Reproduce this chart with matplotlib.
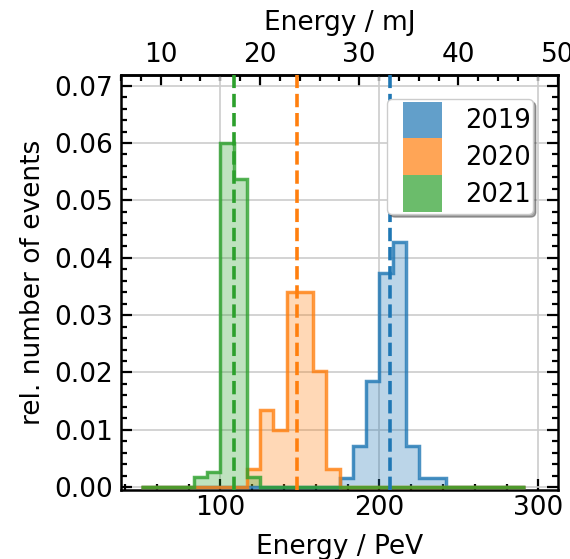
import numpy as np
import matplotlib
matplotlib.use("Agg")
import matplotlib.pyplot as plt
from matplotlib.patches import Patch, Rectangle
from matplotlib.legend_handler import HandlerPatch
from matplotlib.ticker import MultipleLocator, FormatStrFormatter

# ---------------- data ----------------
years = ["2019", "2020", "2021"]
colors = ["#1f77b4", "#ff7f0e", "#2ca02c"]

bin_edges = [50.0, 58.333, 66.667, 75.0, 83.333, 91.667, 100.0, 108.333,
             116.667, 125.0, 133.333, 141.667, 150.0, 158.333, 166.667,
             175.0, 183.333, 191.667, 200.0, 208.333, 216.667, 225.0,
             233.333, 241.667, 250.0, 258.333, 266.667, 275.0, 283.333,
             291.667]

heights_2019 = [0, 0, 0, 0, 0, 0, 0, 0, 0, 0, 0, 0, 0, 0, 0,
                0.0016, 0.0071, 0.0185, 0.0374, 0.0428, 0.0071, 0.0016, 0.0016,
                0, 0, 0, 0, 0, 0]
heights_2020 = [0, 0, 0, 0, 0, 0, 0, 0,
                0.0031, 0.0135, 0.0100, 0.0340, 0.0340, 0.0203, 0.0031,
                0, 0, 0, 0, 0, 0, 0, 0, 0, 0, 0, 0, 0, 0]
heights_2021 = [0, 0, 0, 0,
                0.0018, 0.0027, 0.0600, 0.0538, 0.0018,
                0, 0, 0, 0, 0, 0, 0, 0, 0, 0, 0, 0, 0, 0, 0, 0, 0, 0, 0, 0]

mean_energies = [206.7, 148.2, 108.2]   # PeV

PEV_PER_MJ = 6.2415  # 1 mJ = 6.2415 PeV

# ---------------- plot ----------------
fig = plt.figure(figsize=(5.7, 5.59), dpi=100)
ax = fig.add_axes([0.2123, 0.1243, 0.9784 - 0.2123, 0.8658 - 0.1243])

edges = np.asarray(bin_edges)
centers = 0.5 * (edges[:-1] + edges[1:])
all_heights = [heights_2019, heights_2020, heights_2021]

for h, c in zip(all_heights, colors):
    ax.hist(centers, bins=edges, weights=h, histtype="bar", rwidth=1.0,
            color=c, alpha=0.3, zorder=2)
    ax.hist(centers, bins=edges, weights=h, histtype="step",
            color=c, alpha=0.8, lw=2.5, zorder=3)

for m, c in zip(mean_energies, colors):
    ax.axvline(m, color=c, ls="--", lw=2.6, zorder=4)

ax.set_xlim(6 * PEV_PER_MJ, 50 * PEV_PER_MJ)
ax.set_ylim(-0.0004, 0.07185)

ax.xaxis.set_major_locator(MultipleLocator(100))
ax.xaxis.set_minor_locator(MultipleLocator(20))
ax.yaxis.set_major_locator(MultipleLocator(0.01))
ax.yaxis.set_minor_locator(MultipleLocator(0.002))
ax.yaxis.set_major_formatter(FormatStrFormatter("%.2f"))

ax.grid(True, which="major", color="#cccccc", lw=1.2, zorder=0)
ax.set_axisbelow(True)

TICK_FS = 19
ax.tick_params(which="both", direction="in", top=False, right=True,
               width=1.6, labelsize=TICK_FS)
ax.tick_params(which="major", length=8)
ax.tick_params(which="minor", length=4.5)
ax.tick_params(axis="x", pad=4)
ax.tick_params(axis="y", pad=6)
for s in ax.spines.values():
    s.set_linewidth(1.8)

ax.set_xlabel("Energy / PeV", fontsize=19, labelpad=9)
ax.set_ylabel("rel. number of events", fontsize=19, labelpad=6)

secax = ax.secondary_xaxis("top", functions=(lambda x: x / PEV_PER_MJ,
                                             lambda x: x * PEV_PER_MJ))
secax.xaxis.set_major_locator(MultipleLocator(10))
secax.xaxis.set_minor_locator(MultipleLocator(2))
secax.tick_params(which="both", direction="in", width=1.6,
                  labelsize=TICK_FS, pad=5)
secax.tick_params(which="major", length=8)
secax.tick_params(which="minor", length=4.5)
secax.spines["top"].set_linewidth(1.8)
secax.set_xlabel("Energy / mJ", fontsize=19, labelpad=9)

# legend with touching colour blocks
fs = 18.5


class BlockHandler(HandlerPatch):
    def create_artists(self, legend, orig_handle, xdescent, ydescent,
                       width, height, fontsize, trans):
        inset = 0.52 * fontsize
        p = Rectangle((-xdescent + inset, -ydescent), width - inset, height,
                      facecolor=orig_handle.get_facecolor(),
                      edgecolor="none", transform=trans)
        return [p]


handles = [Patch(facecolor=c, alpha=0.7) for c in colors]
leg = ax.legend(handles, years, loc="upper right",
                bbox_to_anchor=(0.9434, 0.942), borderaxespad=0.0,
                fontsize=fs, shadow=True, fancybox=True, framealpha=1.0,
                labelspacing=0.0, handleheight=1.82, handlelength=2.04,
                handletextpad=0.875, borderpad=0.1,
                handler_map={Patch: BlockHandler()})
leg.set_zorder(10)

fig.savefig("out.png", dpi=100)
